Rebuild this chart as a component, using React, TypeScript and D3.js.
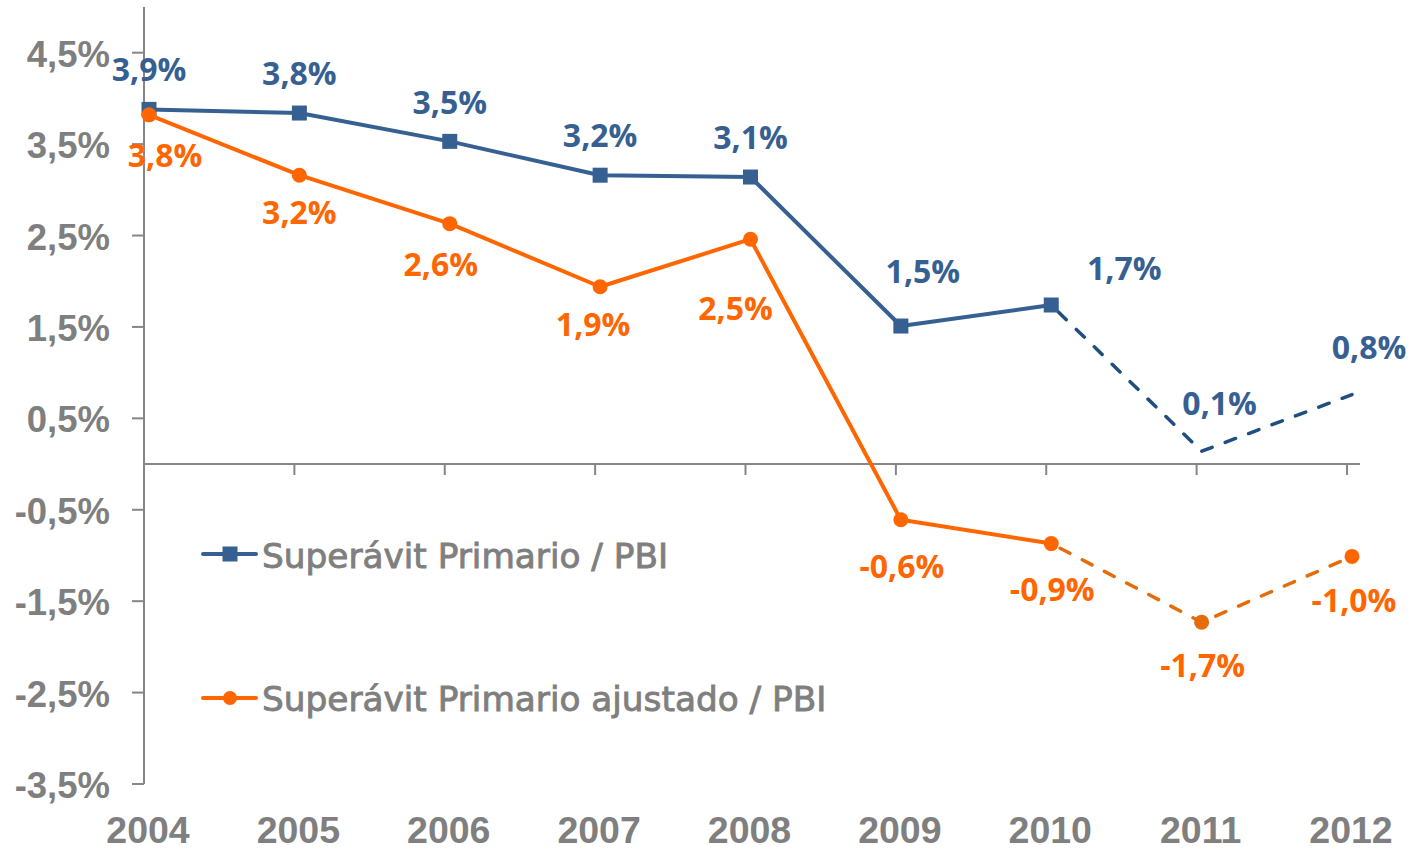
import React from "react";
import * as d3 from "d3";

const years = ["2004", "2005", "2006", "2007", "2008", "2009", "2010", "2011", "2012"];
const superavit = [3.88, 3.84, 3.53, 3.16, 3.14, 1.51, 1.74, 0.14, 0.76];
const superavitAjustado = [3.82, 3.16, 2.63, 1.94, 2.46, -0.61, -0.87, -1.73, -1.01];
const yTicks = [-3.5, -2.5, -1.5, -0.5, 0.5, 1.5, 2.5, 3.5, 4.5];
const seriesNames = ["Superávit Primario / PBI", "Superávit Primario ajustado / PBI"];
// index from which the line becomes dashed (projection)
const dashedFrom = 6;

// label offsets (px) relative to the point
const blueLabelOffsets: [number, number][] = [
  [0, -40], [0, -40], [0, -39], [0, -40], [0, -40], [22, -55], [73, -37], [18, -48], [17, -47],
];
const orangeLabelOffsets: [number, number][] = [
  [16, 41], [0, 37], [-9, 41], [-7, 38], [-15, 69], [1, 47], [1, 46], [1, 43], [2, 44],
];

const BLUE = "#376092";
const BLUE_DASH = "#1F4E80";
const ORANGE = "#FF6600";
const ORANGE_DASH = "#E46C0A";
const GRAY = "#868686";
const TEXT_GRAY = "#7F7F7F";

const fmt = (v: number) => v.toFixed(1).replace(".", ",") + "%";

export default function App() {
  const W = 1416;
  const H = 849;
  const axisX = 144;
  const tickScale = d3.scalePoint<string>().domain(years).range([144, 1347]);
  const pointOffset = 5;
  const x = (y: string) => (tickScale(y) as number) + pointOffset;
  const y = d3.scaleLinear().domain([-3.5, 5]).range([784, 7]);
  const zeroY = y(0);

  const line = d3
    .line<number>()
    .x((_, i) => x(years[i]))
    .y((d) => y(d));

  const solidPath = (vals: number[]) => line(vals.slice(0, dashedFrom + 1)) || "";
  const dashedPath = (vals: number[]) =>
    d3
      .line<number>()
      .x((_, i) => x(years[i + dashedFrom]))
      .y((d) => y(d))(vals.slice(dashedFrom)) || "";

  const labelFont = "'Open Sans', 'Noto Sans', sans-serif";
  const axisFont = "'Liberation Sans', Arial, sans-serif";
  const legendFont = "'DejaVu Sans', Verdana, sans-serif";

  return (
    <svg
      width={W}
      height={H}
      viewBox={`0 0 ${W} ${H}`}
      style={{ position: "absolute", left: 0, top: 0, background: "#fff" }}
    >
      {/* Y axis */}
      <line x1={axisX} x2={axisX} y1={y(5)} y2={y(-3.5)} stroke={GRAY} strokeWidth={2} />
      {yTicks.map((t) => (
        <g key={t}>
          <line x1={axisX - 12} x2={axisX} y1={y(t)} y2={y(t)} stroke={GRAY} strokeWidth={2} />
          <text
            x={110}
            y={y(t) + 14}
            textAnchor="end"
            fontFamily={axisFont}
            fontWeight="bold"
            fontSize={36.5}
            fill={TEXT_GRAY}
          >
            {fmt(t)}
          </text>
        </g>
      ))}
      {/* X axis at zero */}
      <line x1={axisX} x2={1360} y1={zeroY} y2={zeroY} stroke={GRAY} strokeWidth={2} />
      {years.map((yr) => (
        <g key={yr}>
          <line
            x1={tickScale(yr) as number}
            x2={tickScale(yr) as number}
            y1={zeroY}
            y2={zeroY + 11}
            stroke={GRAY}
            strokeWidth={2}
          />
          <text
            x={x(yr) - 1}
            y={843}
            textAnchor="middle"
            fontFamily={axisFont}
            fontWeight="bold"
            fontSize={37.5}
            fill={TEXT_GRAY}
          >
            {yr}
          </text>
        </g>
      ))}

      {/* Blue series */}
      <path d={solidPath(superavit)} fill="none" stroke={BLUE} strokeWidth={4} strokeLinejoin="round" />
      <path
        d={dashedPath(superavit)}
        fill="none"
        stroke={BLUE_DASH}
        strokeWidth={3.5}
        strokeDasharray="11 14"
        strokeLinecap="round"
        strokeDashoffset={-10}
      />
      {superavit.slice(0, dashedFrom + 1).map((v, i) => (
        <rect key={i} x={x(years[i]) - 7.5} y={y(v) - 7.5} width={15} height={15} fill={BLUE} />
      ))}

      {/* Orange series */}
      <path
        d={solidPath(superavitAjustado)}
        fill="none"
        stroke={ORANGE}
        strokeWidth={4}
        strokeLinejoin="round"
      />
      <path
        d={dashedPath(superavitAjustado)}
        fill="none"
        stroke={ORANGE_DASH}
        strokeWidth={3.5}
        strokeDasharray="11 14"
        strokeLinecap="round"
        strokeDashoffset={-10}
      />
      {superavitAjustado.map((v, i) => (
        <circle
          key={i}
          cx={x(years[i])}
          cy={y(v)}
          r={7.5}
          fill={i === 7 ? ORANGE_DASH : ORANGE}
        />
      ))}

      {/* Data labels */}
      {superavit.map((v, i) => (
        <text
          key={"b" + i}
          x={x(years[i]) + blueLabelOffsets[i][0]}
          y={y(v) + blueLabelOffsets[i][1]}
          dy="0.36em"
          textAnchor="middle"
          fontFamily={labelFont}
          fontWeight="bold"
          fontSize={32}
          fill={BLUE}
        >
          {fmt(v)}
        </text>
      ))}
      {superavitAjustado.map((v, i) => (
        <text
          key={"o" + i}
          x={x(years[i]) + orangeLabelOffsets[i][0]}
          y={y(v) + orangeLabelOffsets[i][1]}
          dy="0.36em"
          textAnchor="middle"
          fontFamily={labelFont}
          fontWeight="bold"
          fontSize={32}
          fill={ORANGE}
        >
          {fmt(v)}
        </text>
      ))}

      {/* Legend */}
      <g>
        <line x1={203} x2={256} y1={554} y2={554} stroke={BLUE} strokeWidth={4} strokeLinecap="round" />
        <rect x={222.5} y={546.5} width={15} height={15} fill={BLUE} />
        <text
          x={262}
          y={568}
          fontFamily={legendFont}
          fontSize={34.3}
          fill={TEXT_GRAY}
          stroke={TEXT_GRAY}
          strokeWidth={0.9}
        >
          {seriesNames[0]}
        </text>
        <line x1={203} x2={256} y1={698} y2={698} stroke={ORANGE} strokeWidth={4} strokeLinecap="round" />
        <circle cx={230} cy={698} r={7} fill={ORANGE} />
        <text
          x={262}
          y={711}
          fontFamily={legendFont}
          fontSize={34.3}
          fill={TEXT_GRAY}
          stroke={TEXT_GRAY}
          strokeWidth={0.9}
        >
          {seriesNames[1]}
        </text>
      </g>
    </svg>
  );
}
